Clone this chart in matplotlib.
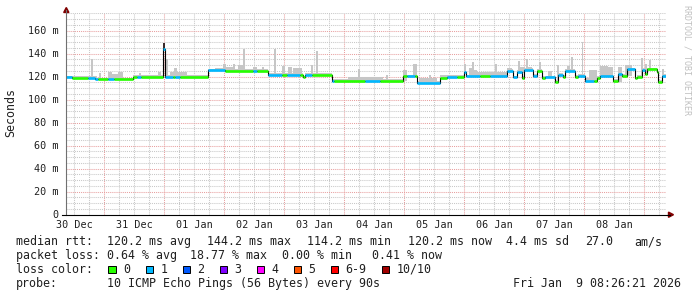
import numpy as np
import matplotlib
matplotlib.use("Agg")
import matplotlib.pyplot as plt
from matplotlib.lines import Line2D
from matplotlib.patches import Rectangle, Polygon

W, H = 697, 297

# ---------------- data ----------------
# hours counted from 30 Dec 00:00
t_start, t_end = 8.8, 248.8

# median rtt steps: start hour, median (ms), lost pings out of 10
med_start = [8.8, 11.1, 17.5, 20.3, 21.5, 25.5, 27.7, 35.6, 37.1, 38.5,
             47.6, 48.4, 51.5, 52.3, 54.3, 65.6, 72.3, 83.5, 85.1, 89.6,
             95.0, 97.0, 102.3, 103.6, 104.4, 107.0, 115.2, 116.0, 128.3, 134.3,
             143.6, 145.0, 148.3, 149.0, 158.3, 161.0, 165.0, 167.9, 168.8, 174.3,
             178.3, 185.0, 187.4, 189.0, 191.0, 191.9, 195.6, 197.0, 199.0, 200.3,
             204.3, 205.5, 207.5, 208.3, 212.3, 213.6, 216.3, 220.0, 221.0, 222.3,
             227.6, 229.6, 231.0, 233.0, 236.3, 237.0, 239.0, 240.3, 241.0, 245.0,
             245.6, 247.0]
med_ms = [119.5, 119.3, 119.3, 117.7, 117.7, 117.7, 117.7, 120.0, 120.0, 120.0,
          144.2, 120.0, 120.0, 120.0, 120.0, 125.5, 125.3, 125.3, 125.3, 121.5,
          121.5, 121.5, 121.5, 119.5, 121.5, 121.5, 116.6, 116.6, 116.6, 116.5,
          120.4, 120.4, 120.4, 114.8, 119.1, 119.5, 120.0, 124.4, 120.3, 120.3,
          120.3, 125.2, 119.5, 124.0, 119.0, 125.8, 120.9, 125.2, 119.1, 119.4,
          115.7, 121.5, 120.0, 125.2, 120.0, 120.6, 116.3, 116.3, 119.0, 120.3,
          116.3, 122.0, 121.0, 126.4, 118.6, 120.0, 126.0, 122.0, 126.4, 124.4,
          115.7, 120.6]
med_loss = [1, 0, 1, 1, 0, 1, 0, 0, 1, 0,
            1, 1, 0, 1, 0, 1, 0, 1, 0, 1,
            0, 1, 0, 0, 1, 0, 1, 0, 1, 0,
            0, 1, 0, 1, 0, 1, 0, 1, 1, 0,
            1, 1, 1, 1, 0, 1, 1, 0, 0, 1,
            0, 1, 0, 1, 0, 1, 1, 0, 0, 1,
            0, 1, 0, 1, 0, 0, 1, 0, 0, 0,
            0, 1]

# smoke (spread of the pings): start hour, end hour, top (ms)
smoke_start = [8.8, 18.5, 19.3, 22.0, 25.5, 27.0, 29.5, 37.0, 38.0, 38.8,
               45.5, 47.6, 48.7, 50.3, 52.0, 53.0, 57.0, 68.3, 71.5, 72.8,
               75.3, 77.5, 79.3, 83.5, 87.2, 92.0, 95.0, 97.5, 99.5, 106.6,
               108.7, 121.5, 125.6, 126.4, 128.3, 136.6, 143.5, 147.5, 150.0, 154.0,
               154.7, 158.3, 167.9, 170.0, 171.2, 172.0, 173.0, 180.3, 181.0, 185.0,
               189.3, 190.3, 192.8, 193.6, 197.7, 201.5, 205.0, 209.0, 210.7, 212.3,
               215.0, 216.3, 218.0, 222.3, 225.5, 229.5, 232.3, 238.6, 240.3, 241.9,
               243.5, 247.2]
smoke_end = [17.0, 19.3, 21.0, 22.8, 27.0, 29.5, 31.5, 38.0, 38.8, 45.5,
             46.5, 48.3, 49.5, 52.0, 53.0, 57.0, 65.5, 71.5, 72.8, 75.3,
             76.3, 79.3, 80.1, 85.0, 88.0, 92.6, 96.3, 99.0, 103.0, 107.4,
             109.3, 125.6, 126.4, 128.3, 135.5, 137.4, 145.0, 149.0, 154.0, 154.7,
             157.0, 167.5, 168.7, 171.2, 172.0, 173.0, 180.3, 181.0, 185.0, 187.0,
             190.1, 192.3, 193.6, 195.0, 198.7, 203.0, 205.8, 210.3, 211.4, 215.0,
             215.6, 218.0, 221.0, 225.5, 227.5, 231.0, 235.0, 239.4, 241.0, 242.7,
             245.0, 248.0]
smoke_top = [120.8, 135.4, 121.0, 123.0, 124.4, 122.5, 124.5, 121.5, 123.0, 121.5,
             124.4, 149.5, 135.4, 124.4, 127.3, 124.4, 121.2, 127.5, 130.8, 128.7,
             130.8, 130.0, 144.0, 128.2, 128.2, 144.0, 129.3, 128.7, 127.3, 130.0,
             142.3, 120.0, 126.7, 120.0, 119.5, 121.5, 125.8, 130.8, 118.6, 121.5,
             118.6, 121.5, 131.0, 127.3, 133.0, 126.0, 124.5, 130.8, 124.0, 127.3,
             134.0, 128.0, 135.4, 128.0, 132.5, 125.0, 130.0, 129.6, 137.0, 121.5,
             150.0, 119.0, 125.8, 129.3, 128.7, 128.0, 130.0, 136.0, 130.8, 134.5,
             127.3, 127.0]

day_labels = ["30 Dec", "31 Dec", "01 Jan", "02 Jan", "03 Jan",
              "04 Jan", "05 Jan", "06 Jan", "07 Jan", "08 Jan"]
y_ticks = [0, 20, 40, 60, 80, 100, 120, 140, 160]
y_tick_labels = ["0", "20 m", "40 m", "60 m", "80 m", "100 m", "120 m", "140 m", "160 m"]

loss_names = ["0", "1", "2", "3", "4", "5", "6-9", "10/10"]
loss_colors = ["#26ff00", "#00b8ff", "#0059ff", "#7e00ff", "#ff00ff",
               "#ff5500", "#ff0000", "#a10000"]

stats_rtt = ["120.2 ms avg", "144.2 ms max", "114.2 ms min", "120.2 ms now",
             "4.4 ms sd", "27.0", "am/s"]
stats_loss = ["0.64 % avg", "18.77 % max", "0.00 % min", "0.41 % now"]
probe_text = "10 ICMP Echo Pings (56 Bytes) every 90s"
date_text = "Fri Jan  9 08:26:21 2026"

# ---------------- figure ----------------
MONO = "DejaVu Sans Mono"
fig = plt.figure(figsize=(W / 100, H / 100), dpi=100)
fig.patch.set_facecolor("white")

def fx(x):
    return x / W

def fy(y):
    return 1 - y / H

ax_left, ax_right, ax_bottom, ax_top = 66.3, 666.3, 214.7, 13.4
ax = fig.add_axes([fx(ax_left), fy(ax_bottom), (ax_right - ax_left) / W,
                   (ax_bottom - ax_top) / H])
ymax = (ax_bottom - ax_top) / 1.15
ax.set_xlim(t_start, t_end)
ax.set_ylim(0, ymax)
for s in ax.spines.values():
    s.set_visible(False)
ax.set_xticks([])
ax.set_yticks([])
ax.set_facecolor("white")

# grid
dots = (0, (1, 1))
for h in np.arange(12, t_end, 6):
    if h % 24 == 0:
        ax.axvline(h, color="#e8a0a0", lw=0.75, ls=dots, zorder=1)
    else:
        ax.axvline(h, color="#c8c8c8", lw=0.75, ls=dots, zorder=1)
for v in np.arange(5, ymax, 5):
    if v % 20 == 0:
        ax.axhline(v, color="#e8a0a0", lw=0.75, ls=dots, zorder=1)
    else:
        ax.axhline(v, color="#c8c8c8", lw=0.75, ls=dots, zorder=1)

# smoke
ms_arr = np.array(med_ms)
st_arr = np.array(med_start)
def med_at(t):
    i = np.searchsorted(st_arr, t, side="right") - 1
    return ms_arr[max(i, 0)]

ends = med_start[1:] + [t_end]
# thin base spread around the median
for s0, s1, m in zip(med_start, ends, med_ms):
    ax.add_patch(Rectangle((s0, m - 0.6), s1 - s0, 2.0, color="#c8c8c8",
                           lw=0, zorder=2))
for s0, s1, top in zip(smoke_start, smoke_end, smoke_top):
    base = med_at(s0) - 0.6
    col = "#3a2a2a" if top > 145 and s0 < 60 else "#c6c6c6"
    ax.add_patch(Rectangle((s0, base), s1 - s0, top - base, color=col,
                           lw=0, zorder=2))

# median line: black step + loss-coloured segments
ax.step(med_start + [t_end], med_ms + [med_ms[-1]], where="post",
        color="black", lw=0.8, zorder=3)
ax.hlines(med_ms, med_start, ends,
          colors=[loss_colors[l] for l in med_loss], lw=1.9, zorder=4)

# axes lines and arrows
axis_x = ax_left
fig.add_artist(Line2D([fx(axis_x)] * 2, [fy(ax_bottom), fy(10)],
                      color="#707070", lw=0.8))
fig.add_artist(Polygon([[fx(axis_x - 2.6), fy(12.5)], [fx(axis_x + 2.6), fy(12.5)],
                        [fx(axis_x), fy(7.5)]], closed=True, color="#800000",
                       transform=fig.transFigure))
fig.add_artist(Line2D([fx(62), fx(670)], [fy(ax_bottom)] * 2,
                      color="black", lw=0.8))
fig.add_artist(Polygon([[fx(668.5), fy(ax_bottom - 2.6)], [fx(668.5), fy(ax_bottom + 2.6)],
                        [fx(673.5), fy(ax_bottom)]], closed=True, color="#800000",
                       transform=fig.transFigure))

# tick labels
for v, lab in zip(y_ticks, y_tick_labels):
    ax.text(-0.0125, v, lab, transform=ax.get_yaxis_transform(), ha="right",
            va="center", family=MONO, fontsize=7.3, color="#202020")
for i, lab in enumerate(day_labels):
    ax.text(12 + 24 * i, -0.05, lab, transform=ax.get_xaxis_transform(),
            ha="center", va="center", family=MONO, fontsize=7.3, color="#202020")

fig.text(fx(11), fy(113), "Seconds", rotation=90, ha="center", va="center",
         family=MONO, fontsize=8.4, color="#202020")
fig.text(fx(687), fy(60), "RRDTOOL / TOBI OETIKER", rotation=270, ha="center",
         va="center", family=MONO, fontsize=6.0, color="#c0c0c0")

# legend text
FS = 8.4
def put(x, y, s):
    fig.text(fx(x), fy(y), s, ha="left", va="center", family=MONO,
             fontsize=FS, color="#202020")

put(15.5, 241.7, "median rtt:")
for x, s in zip([106.8, 206.8, 306.8, 407.8, 506.2, 585.5, 634.5], stats_rtt):
    put(x, 241.7, s)
put(15.5, 255.3, "packet loss:")
for x, s in zip([106.8, 190.0, 281.5, 371.8], stats_loss):
    put(x, 255.3, s)
put(15.5, 269.3, "loss color:")
for x, name, c in zip([108.3, 145.7, 182.7, 219.7, 256.7, 293.7, 330.7, 381.7],
                      loss_names, loss_colors):
    fig.add_artist(Rectangle((fx(x), fy(273.0)), 7.5 / W, 7.5 / H, facecolor=c,
                             edgecolor="black", lw=0.7, transform=fig.transFigure))
    put(x + 14.5, 269.3, name)
put(15.5, 283.3, "probe:")
put(106.8, 283.3, probe_text)
put(512.8, 283.3, date_text)

fig.savefig("out.png", dpi=100, facecolor="white")
